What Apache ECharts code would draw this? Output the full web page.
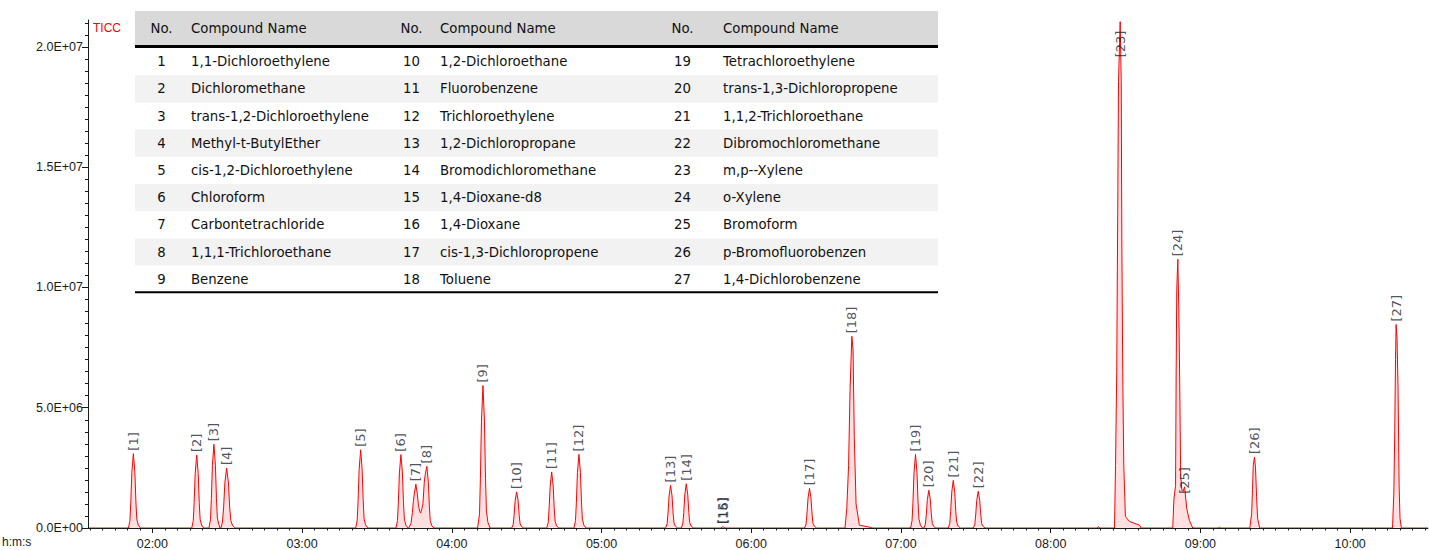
<!DOCTYPE html>
<html><head><meta charset="utf-8">
<script src="https://cdn.jsdelivr.net/npm/echarts@6/dist/echarts.min.js"></script>
<style>html,body{margin:0;padding:0;background:#fff}#chart{width:1429px;height:550px}</style>
</head><body><div id="chart"></div>
<script>
// ---------- axis ticks ----------
const xTickValues = [2, 3, 4, 5, 6, 7, 8, 9, 10];
const xTickLabels = ['02:00', '03:00', '04:00', '05:00', '06:00', '07:00', '08:00', '09:00', '10:00'];
const yTickValues = [0, 5e6, 1e7, 1.5e7, 2e7];
const yTickLabels = ['0.0E+00', '5.0E+06', '1.0E+07', '1.5E+07', '2.0E+07'];

// ---------- compound table ----------
const compoundNo = [1,2,3,4,5,6,7,8,9,10,11,12,13,14,15,16,17,18,19,20,21,22,23,24,25,26,27];
const compoundName = [
  '1,1-Dichloroethylene','Dichloromethane','trans-1,2-Dichloroethylene','Methyl-t-ButylEther',
  'cis-1,2-Dichloroethylene','Chloroform','Carbontetrachloride','1,1,1-Trichloroethane','Benzene',
  '1,2-Dichloroethane','Fluorobenzene','Trichloroethylene','1,2-Dichloropropane','Bromodichloromethane',
  '1,4-Dioxane-d8','1,4-Dioxane','cis-1,3-Dichloropropene','Toluene',
  'Tetrachloroethylene','trans-1,3-Dichloropropene','1,1,2-Trichloroethane','Dibromochloromethane',
  'm,p--Xylene','o-Xylene','Bromoform','p-Bromofluorobenzen','1,4-Dichlorobenzene'
];

// ---------- peak apexes (retention time in min, intensity) ----------
const peakTime = [1.873,2.296,2.411,2.496,3.391,3.660,3.760,3.833,4.208,4.433,4.667,4.849,5.461,5.566,
  5.806,5.812,6.389,6.672,7.097,7.186,7.349,7.516,8.464,8.849,8.894,9.361,10.307];
const peakHeight = [3.09e6,3.03e6,3.48e6,2.49e6,3.25e6,3.05e6,1.82e6,2.56e6,5.92e6,1.50e6,2.33e6,3.06e6,1.77e6,1.84e6,
  0.04e6,0.05e6,1.65e6,7.97e6,3.06e6,1.57e6,1.98e6,1.53e6,2.105e7,1.117e7,1.71e6,2.95e6,8.46e6];

// ---------- TIC trace: [time (min), intensity] ----------
const ticStart = [[1.570, 0]];
const ticP1 = [[1.840,0],[1.850,0.31e6],[1.856,1.08e6],[1.863,2.32e6],[1.873,3.09e6],[1.883,2.32e6],[1.890,1.08e6],[1.896,0.37e6],[1.906,0.12e6],[1.920,0]];
const ticP2 = [[2.263,0],[2.273,0.30e6],[2.279,1.06e6],[2.286,2.27e6],[2.296,3.03e6],[2.306,2.27e6],[2.313,1.06e6],[2.319,0.36e6],[2.329,0.12e6],[2.343,0]];
const ticP3 = [[2.378,0],[2.388,0.35e6],[2.394,1.22e6],[2.401,2.61e6],[2.411,3.48e6],[2.421,2.61e6],[2.428,1.22e6],[2.434,0.42e6],[2.444,0.14e6],[2.452,0]];
const ticP4 = [[2.458,0],[2.468,0.25e6],[2.476,0.87e6],[2.484,1.87e6],[2.496,2.49e6],[2.508,1.87e6],[2.516,0.87e6],[2.524,0.30e6],[2.536,0.10e6],[2.554,0]];
const ticP5 = [[3.358,0],[3.368,0.33e6],[3.374,1.14e6],[3.381,2.44e6],[3.391,3.25e6],[3.401,2.44e6],[3.408,1.14e6],[3.414,0.39e6],[3.424,0.13e6],[3.438,0]];
const ticP6 = [[3.627,0],[3.637,0.31e6],[3.643,1.07e6],[3.650,2.29e6],[3.660,3.05e6],[3.670,2.29e6],[3.677,1.07e6],[3.683,0.37e6],[3.693,0.12e6],[3.707,0]];
const ticP7P8 = [[3.712,0],[3.727,0.18e6],[3.737,0.64e6],[3.743,1.10e6],[3.750,1.45e6],[3.760,1.82e6],[3.770,1.40e6],[3.777,0.95e6],[3.785,0.70e6],[3.792,0.62e6],[3.800,0.80e6],[3.807,1.00e6],[3.816,1.90e6],[3.823,2.25e6],[3.833,2.56e6],[3.843,1.92e6],[3.850,0.90e6],[3.856,0.31e6],[3.866,0.10e6],[3.880,0]];
const ticP9 = [[4.172,0],[4.185,0.59e6],[4.191,2.07e6],[4.198,4.44e6],[4.208,5.92e6],[4.218,4.44e6],[4.225,2.07e6],[4.231,0.71e6],[4.241,0.24e6],[4.255,0]];
const ticP10 = [[4.400,0],[4.410,0.15e6],[4.416,0.53e6],[4.423,1.13e6],[4.433,1.50e6],[4.443,1.13e6],[4.450,0.53e6],[4.456,0.18e6],[4.466,0.06e6],[4.480,0]];
const ticP11 = [[4.634,0],[4.644,0.23e6],[4.650,0.82e6],[4.657,1.75e6],[4.667,2.33e6],[4.677,1.75e6],[4.684,0.82e6],[4.690,0.28e6],[4.700,0.09e6],[4.714,0]];
const ticP12 = [[4.816,0],[4.826,0.31e6],[4.832,1.07e6],[4.839,2.30e6],[4.849,3.06e6],[4.859,2.30e6],[4.866,1.07e6],[4.872,0.37e6],[4.882,0.12e6],[4.896,0]];
const ticP13 = [[5.428,0],[5.438,0.18e6],[5.444,0.62e6],[5.451,1.33e6],[5.461,1.77e6],[5.471,1.33e6],[5.478,0.62e6],[5.484,0.21e6],[5.494,0.07e6],[5.508,0]];
const ticP14 = [[5.533,0],[5.543,0.18e6],[5.549,0.64e6],[5.556,1.38e6],[5.566,1.84e6],[5.576,1.38e6],[5.583,0.64e6],[5.589,0.22e6],[5.599,0.07e6],[5.613,0]];
const ticP15P16 = [[5.795,0],[5.806,0.04e6],[5.812,0.05e6],[5.825,0]];
const ticP17 = [[6.356,0],[6.366,0.17e6],[6.372,0.58e6],[6.379,1.24e6],[6.389,1.65e6],[6.399,1.24e6],[6.406,0.58e6],[6.412,0.20e6],[6.422,0.07e6],[6.436,0]];
const ticP18 = [[6.626,0],[6.638,0.80e6],[6.650,2.60e6],[6.660,5.80e6],[6.672,7.97e6],[6.680,7.40e6],[6.688,3.80e6],[6.700,1.00e6],[6.722,0.12e6],[6.801,0.02e6],[6.810,0]];
const ticP19 = [[7.064,0],[7.074,0.31e6],[7.080,1.07e6],[7.087,2.30e6],[7.097,3.06e6],[7.107,2.30e6],[7.114,1.07e6],[7.120,0.37e6],[7.130,0.12e6],[7.144,0]];
const ticP20 = [[7.153,0],[7.163,0.16e6],[7.169,0.55e6],[7.176,1.18e6],[7.186,1.57e6],[7.196,1.18e6],[7.203,0.55e6],[7.209,0.19e6],[7.219,0.06e6],[7.233,0]];
const ticP21 = [[7.316,0],[7.326,0.20e6],[7.332,0.69e6],[7.339,1.49e6],[7.349,1.98e6],[7.359,1.49e6],[7.366,0.69e6],[7.372,0.24e6],[7.382,0.08e6],[7.396,0]];
const ticP22 = [[7.483,0],[7.493,0.15e6],[7.499,0.54e6],[7.506,1.15e6],[7.516,1.53e6],[7.526,1.15e6],[7.533,0.54e6],[7.539,0.18e6],[7.549,0.06e6],[7.563,0]];
const ticBlipA = [[8.312,0],[8.319,0.06e6],[8.326,0]];
const ticP23 = [[8.426,0],[8.433,2.60e6],[8.441,6.47e6],[8.453,1.856e7],[8.464,2.105e7],[8.471,1.856e7],[8.475,1.207e7],[8.481,6.47e6],[8.488,2.60e6],[8.499,0.48e6],[8.526,0.27e6],[8.593,0.12e6],[8.604,0]];
const ticP24P25 = [[8.815,0],[8.823,1.20e6],[8.834,1.77e6],[8.838,6.49e6],[8.842,9.93e6],[8.849,1.117e7],[8.856,8.98e6],[8.862,5.92e6],[8.868,2.19e6],[8.876,1.57e6],[8.884,1.52e6],[8.894,1.71e6],[8.909,0.80e6],[8.927,0.30e6],[8.949,0]];
const ticBlipB = [[9.120,0],[9.127,0.05e6],[9.134,0]];
const ticP26 = [[9.330,0],[9.342,0.60e6],[9.348,1.60e6],[9.353,2.60e6],[9.361,2.95e6],[9.368,2.50e6],[9.375,1.30e6],[9.382,0.40e6],[9.396,0]];
const ticP27 = [[10.283,0],[10.292,1.50e6],[10.298,4.00e6],[10.303,7.00e6],[10.307,8.46e6],[10.313,7.90e6],[10.320,5.80e6],[10.327,1.80e6],[10.333,0.40e6],[10.342,0]];
const ticEnd = [[10.52, 0]];

const X_MIN = 1.570, X_MAX = 10.52, Y_MAX = 2.112e7;

const ticData = [].concat(ticStart, ticP1, ticP2, ticP3, ticP4, ticP5, ticP6, ticP7P8, ticP9, ticP10,
  ticP11, ticP12, ticP13, ticP14, ticP15P16, ticP17, ticP18, ticP19, ticP20, ticP21, ticP22, ticBlipA,
  ticP23, ticP24P25, ticBlipB, ticP26, ticP27, ticEnd);

// minor ticks: every 5 s on x, every 5E+05 on y
const xMinor = []; for (let k = 19; k <= 126; k++) xMinor.push(k / 12);
const yMinor = []; for (let k = 0; k <= 42; k++) yMinor.push(k * 5e5);

const AXIS_COLOR = '#1a1a1a';
const LABEL_FONT = 'Liberation Sans, Arial, sans-serif';

// labels for peaks
const labelData = peakTime.map((t, i) => {
  const item = { value: [t, peakHeight[i]], name: String(compoundNo[i]) };
  if (compoundNo[i] === 23) item.label = { position: 'bottom', distance: 9, align: 'right' };
  if (compoundNo[i] === 25) item.label = { position: 'bottom', distance: 7, align: 'left' };
  return item;
});

// table graphic
const TABLE_LEFT = 135, TABLE_W = 803, HEAD_TOP = 11, HEAD_H = 34, ROW_TOP = 48, ROW_H = 27.2;
const noCenter = [161.5, 411.5, 682.5];
const nameLeft = [191, 440, 723];
const TFONT = '13.3px "DejaVu Sans", Verdana, sans-serif';
const tableEls = [];
tableEls.push({ type: 'rect', shape: { x: TABLE_LEFT, y: HEAD_TOP, width: TABLE_W, height: HEAD_H }, style: { fill: '#d9d9d9' } });
tableEls.push({ type: 'rect', shape: { x: TABLE_LEFT, y: HEAD_TOP + HEAD_H, width: TABLE_W, height: 3 }, style: { fill: '#000' } });
for (let r = 0; r < 9; r++) {
  if (r % 2 === 1) tableEls.push({ type: 'rect', shape: { x: TABLE_LEFT, y: ROW_TOP + r * ROW_H, width: TABLE_W, height: ROW_H }, style: { fill: '#f2f2f2' } });
}
tableEls.push({ type: 'rect', shape: { x: TABLE_LEFT, y: ROW_TOP + 9 * ROW_H - 1.5, width: TABLE_W, height: 2 }, style: { fill: '#000' } });
for (let c = 0; c < 3; c++) {
  const hy = HEAD_TOP + HEAD_H / 2 + 0.5;
  tableEls.push({ type: 'text', x: noCenter[c], y: hy, style: { text: 'No.', font: TFONT, fill: '#111', align: 'center', verticalAlign: 'middle' } });
  tableEls.push({ type: 'text', x: nameLeft[c], y: hy, style: { text: 'Compound Name', font: TFONT, fill: '#111', align: 'left', verticalAlign: 'middle' } });
  for (let r = 0; r < 9; r++) {
    const idx = c * 9 + r;
    const cy = ROW_TOP + (r + 0.5) * ROW_H;
    tableEls.push({ type: 'text', x: noCenter[c], y: cy, style: { text: String(compoundNo[idx]), font: TFONT, fill: '#111', align: 'center', verticalAlign: 'middle' } });
    tableEls.push({ type: 'text', x: nameLeft[c], y: cy, style: { text: compoundName[idx], font: TFONT, fill: '#111', align: 'left', verticalAlign: 'middle' } });
  }
}
tableEls.push({ type: 'text', x: 93, y: 28, style: { text: 'TICC', font: '12px ' + LABEL_FONT, fill: '#ff0000', align: 'left', verticalAlign: 'middle' } });
tableEls.push({ type: 'text', x: 2, y: 542, style: { text: 'h:m:s', font: '12px ' + LABEL_FONT, fill: AXIS_COLOR, align: 'left', verticalAlign: 'middle' } });

const chart = echarts.init(document.getElementById('chart'), null, { renderer: 'svg' });
chart.setOption({
  animation: false,
  backgroundColor: '#fff',
  grid: { left: 88, right: 1, top: 20, bottom: 20.5 },
  xAxis: [
    { type: 'value', min: X_MIN, max: X_MAX, position: 'bottom', z: 5,
      axisLine: { onZero: false, lineStyle: { color: AXIS_COLOR, width: 1 } },
      axisTick: { customValues: xTickValues, length: 5, lineStyle: { color: AXIS_COLOR } },
      axisLabel: { customValues: xTickValues, margin: 9, fontSize: 12.5, fontFamily: LABEL_FONT, color: AXIS_COLOR,
        formatter: v => xTickLabels[xTickValues.indexOf(v)] },
      splitLine: { show: false } },
    { type: 'value', min: X_MIN, max: X_MAX, position: 'bottom', z: 5,
      axisLine: { show: false, onZero: false },
      axisTick: { customValues: xMinor, length: 2.5, lineStyle: { color: AXIS_COLOR } },
      axisLabel: { show: false }, splitLine: { show: false } }
  ],
  yAxis: [
    { type: 'value', min: 0, max: Y_MAX, position: 'left', z: 5,
      axisLine: { show: true, onZero: false, lineStyle: { color: AXIS_COLOR, width: 1 } },
      axisTick: { show: true, customValues: yTickValues, length: 6, lineStyle: { color: AXIS_COLOR } },
      axisLabel: { customValues: yTickValues, margin: 5, fontSize: 12.5, fontFamily: LABEL_FONT, color: AXIS_COLOR,
        formatter: v => yTickLabels[yTickValues.indexOf(v)] },
      splitLine: { show: false } },
    { type: 'value', min: 0, max: Y_MAX, position: 'left', z: 5,
      axisLine: { show: false, onZero: false },
      axisTick: { show: true, customValues: yMinor, length: 3, lineStyle: { color: AXIS_COLOR } },
      axisLabel: { show: false }, splitLine: { show: false } }
  ],
  graphic: { elements: tableEls },
  series: [
    { type: 'line', xAxisIndex: 0, yAxisIndex: 0, data: ticData, showSymbol: false, silent: true, z: 2,
      lineStyle: { color: '#ff0000', width: 1 }, areaStyle: { color: 'rgba(255,0,0,0.18)', origin: 'start' } },
    { type: 'scatter', xAxisIndex: 0, yAxisIndex: 0, data: labelData, symbolSize: 0, silent: true, z: 4,
      label: { show: true, position: 'top', distance: 3, rotate: 90, align: 'left', verticalAlign: 'middle',
        formatter: p => '[' + p.name + ']', fontSize: 13, fontFamily: '"DejaVu Sans", sans-serif', color: '#1f2633' } }
  ]
});
</script></body></html>
